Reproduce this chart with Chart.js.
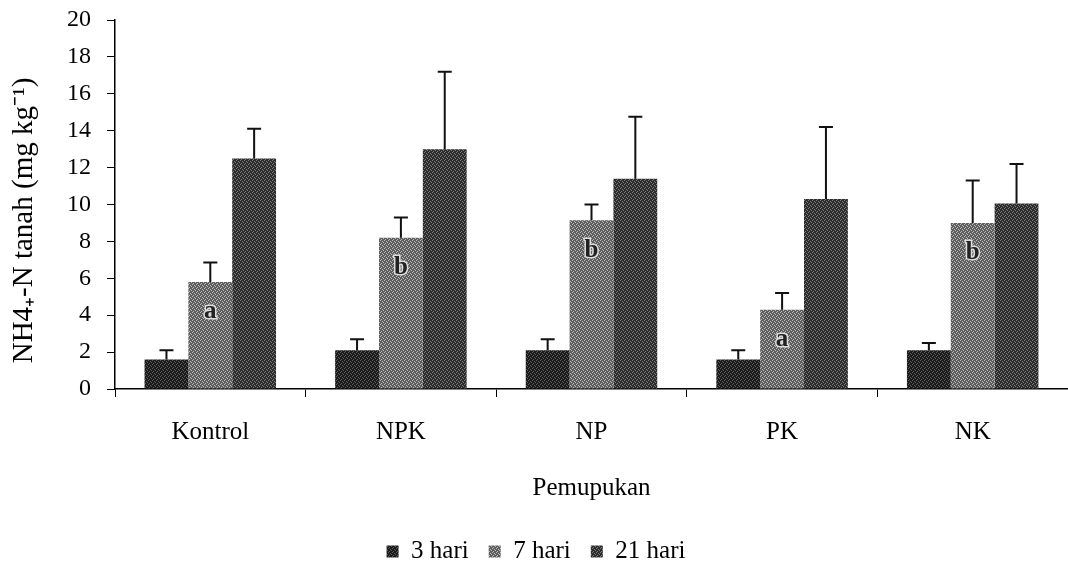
<!DOCTYPE html>
<html>
<head>
<meta charset="utf-8">
<script src="https://cdn.jsdelivr.net/npm/chart.js@4.4.1/dist/chart.umd.min.js"></script>
<style>
  html, body { margin: 0; padding: 0; background: #fff; }
  #wrap { width: 1068px; height: 567px; }
</style>
</head>
<body>
<div id="wrap"><canvas id="chart"></canvas></div>
<script>
// data
const categories = ['Kontrol', 'NPK', 'NP', 'PK', 'NK'];
const seriesNames = ['3 hari', '7 hari', '21 hari'];
const hari3 = [1.6, 2.1, 2.1, 1.6, 2.1];
const hari7 = [5.8, 8.2, 9.15, 4.3, 9.0];
const hari21 = [12.5, 13.0, 11.4, 10.3, 10.05];
// upper error (sd) per bar
const err3 = [0.5, 0.6, 0.6, 0.5, 0.4];
const err7 = [1.05, 1.1, 0.85, 0.9, 2.3];
const err21 = [1.6, 4.2, 3.35, 3.9, 2.15];
// letters on the 7 hari bars
const letters7 = ['a', 'b', 'b', 'a', 'b'];
const yMin = 0, yMax = 20, yStep = 2;
const yTitle = 'NH4\u208A-N tanah (mg kg\u207B\u00B9)';
const xTitle = 'Pemupukan';

const serif = "'Liberation Serif', 'Times New Roman', serif";

// small fixed speckle texture, like the scanned print
function makePattern(base, dot) {
  const c = document.createElement('canvas');
  c.width = 4; c.height = 4;
  const g = c.getContext('2d');
  g.fillStyle = base;
  g.fillRect(0, 0, 4, 4);
  g.fillStyle = dot;
  g.fillRect(0, 0, 1, 1);
  g.fillRect(2, 1, 1, 1);
  g.fillRect(1, 3, 1, 1);
  g.fillRect(3, 2, 1, 1);
  return g.createPattern(c, 'repeat');
}

const allErrs = [err3, err7, err21];
const allVals = [hari3, hari7, hari21];

// draws the upward error bars, the letters and the y title
const errorBars = {
  id: 'errorBars',
  afterDatasetsDraw(chart) {
    const ctx = chart.ctx;
    const y = chart.scales.y;
    ctx.save();
    chart.data.datasets.forEach((ds, i) => {
      const meta = chart.getDatasetMeta(i);
      meta.data.forEach((bar, j) => {
        const top = y.getPixelForValue(allVals[i][j] + allErrs[i][j]);
        ctx.strokeStyle = '#111';
        ctx.lineWidth = 2;
        ctx.beginPath();
        ctx.moveTo(bar.x, bar.y);
        ctx.lineTo(bar.x, top);
        ctx.moveTo(bar.x - 7, top);
        ctx.lineTo(bar.x + 7, top);
        ctx.stroke();
      });
    });
    // letters
    const meta7 = chart.getDatasetMeta(1);
    ctx.font = 'bold 25px ' + serif;
    ctx.textAlign = 'center';
    ctx.textBaseline = 'middle';
    meta7.data.forEach((bar, j) => {
      ctx.lineWidth = 3;
      ctx.strokeStyle = '#ddd';
      ctx.strokeText(letters7[j], bar.x, bar.y + 30);
      ctx.fillStyle = '#222';
      ctx.fillText(letters7[j], bar.x, bar.y + 30);
    });
    // y axis title, a bit below the middle like the original
    ctx.translate(24, (y.top + y.bottom) / 2 + 16);
    ctx.rotate(-Math.PI / 2);
    ctx.font = '29px ' + serif;
    ctx.fillStyle = '#000';
    ctx.fillText(yTitle, 0, 0);
    ctx.restore();
  }
};

new Chart(document.getElementById('chart'), {
  type: 'bar',
  plugins: [errorBars],
  data: {
    labels: categories,
    datasets: [
      { label: seriesNames[0], data: hari3, backgroundColor: makePattern('#1a1a1a', '#5e5e5e') },
      { label: seriesNames[1], data: hari7, backgroundColor: makePattern('#5e5e5e', '#bdbdbd') },
      { label: seriesNames[2], data: hari21, backgroundColor: makePattern('#2c2c2c', '#7e7e7e') }
    ]
  },
  options: {
    responsive: true,
    maintainAspectRatio: false,
    animation: false,
    layout: { padding: { left: 0, right: -4, top: 20, bottom: -7 } },
    datasets: { bar: { barPercentage: 1.0, categoryPercentage: 0.69 } },
    plugins: {
      tooltip: { enabled: false },
      legend: {
        position: 'bottom',
        labels: {
          color: '#000',
          font: { family: serif, size: 25 },
          boxWidth: 12,
          boxHeight: 12,
          padding: 20
        }
      }
    },
    scales: {
      x: {
        afterFit: (s) => { s.height = 130; },
        grid: { display: true, drawOnChartArea: false, color: '#000', tickLength: 8, offset: true },
        border: { color: '#000', width: 1.5 },
        ticks: { color: '#000', font: { family: serif, size: 25, lineHeight: 1.0 }, padding: 23 },
        title: { display: true, text: xTitle, color: '#000', font: { family: serif, size: 25, lineHeight: 1.0 }, padding: { top: 0, bottom: 18 } }
      },
      y: {
        min: yMin,
        max: yMax,
        afterFit: (s) => { s.paddingTop = 0; s.width = 115; },
        grid: { display: true, drawOnChartArea: false, color: '#000', tickLength: 8 },
        border: { color: '#000', width: 1.5 },
        ticks: { stepSize: yStep, color: '#000', font: { family: serif, size: 24 }, padding: 16 }
      }
    }
  }
});
</script>
</body>
</html>
